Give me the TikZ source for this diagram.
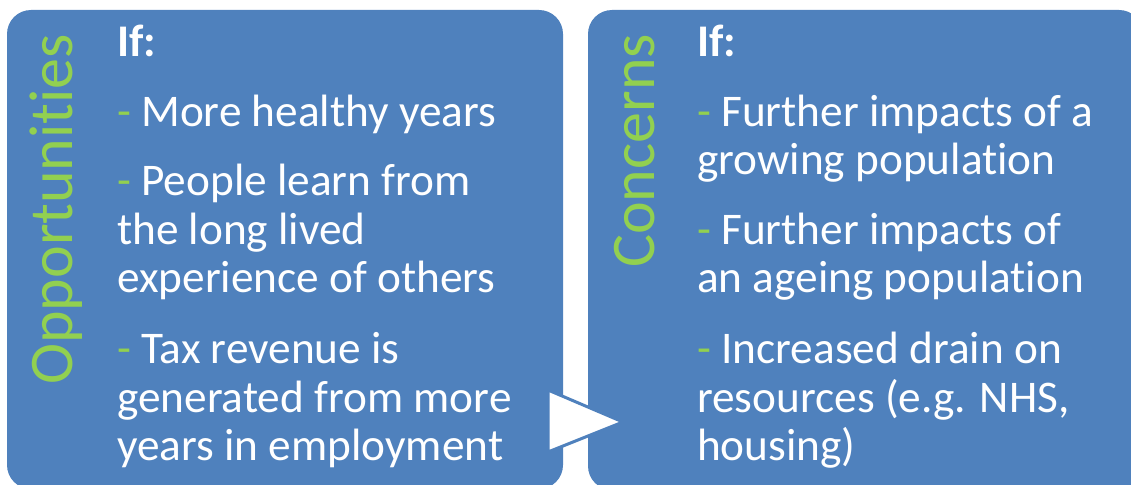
\documentclass[tikz,border=0pt]{standalone}
\usepackage{fontspec}
\setmainfont[Ligatures={NoCommon,NoRare}]{Carlito}
\definecolor{BoxClr}{HTML}{4F81BD}
\definecolor{HeadClr}{HTML}{92D050}
\newcommand{\dashmark}{{\color{HeadClr}-} }

\begin{document}
\begin{tikzpicture}[x=1pt,y=-1pt,
  box/.style={fill=BoxClr,rounded corners=24pt},
  itemline/.style={anchor=base west,inner sep=0pt,text=white,font=\fontsize{45.3}{49}\selectfont},
  headline/.style={rotate=90,anchor=base west,inner sep=0pt,text=HeadClr,font=\fontsize{62}{70}\selectfont}]
\useasboundingbox (0,0) rectangle (1131,484);

% the two panels
\fill[box] (7,10) rectangle (563,489);
\fill[box] (588,10) rectangle (1143,490);

% arrow between the panels
\coordinate (ArrA) at (548,390);
\coordinate (ArrB) at (548,452);
\coordinate (ArrC) at (623,422);
\filldraw[fill=white,draw=BoxClr,line width=3pt,line join=miter] (ArrA) -- (ArrC) -- (ArrB) -- cycle;

% left panel
\node[headline] (OppHead) at (72,385) {Opportunities};
\node[itemline] (opp0) at (117,57) {\textbf{If:}};
\node[itemline] (opp1) at (117,126) {\dashmark More healthy years};
\node[itemline] (opp2) at (117,195) {\dashmark People learn from};
\node[itemline] (opp3) at (117,244) {the long lived};
\node[itemline] (opp4) at (117,292) {experience of others};
\node[itemline] (opp5) at (117,363) {\dashmark Tax revenue is};
\node[itemline] (opp6) at (117,412) {generated from more};
\node[itemline] (opp7) at (117,460) {years in employment};

% right panel
\node[headline] (ConHead) at (654,268) {Concerns};
\node[itemline] (con0) at (697,57) {\textbf{If:}};
\node[itemline] (con1) at (697,126) {\dashmark Further impacts of a};
\node[itemline] (con2) at (697,174) {growing population};
\node[itemline] (con3) at (697,244) {\dashmark Further impacts of};
\node[itemline] (con4) at (697,292) {an ageing population};
\node[itemline] (con5) at (697,363) {\dashmark Increased drain on};
\node[itemline] (con6) at (697,412) {resources (e.g. NHS,};
\node[itemline] (con7) at (697,460) {housing)};

\end{tikzpicture}
\end{document}
